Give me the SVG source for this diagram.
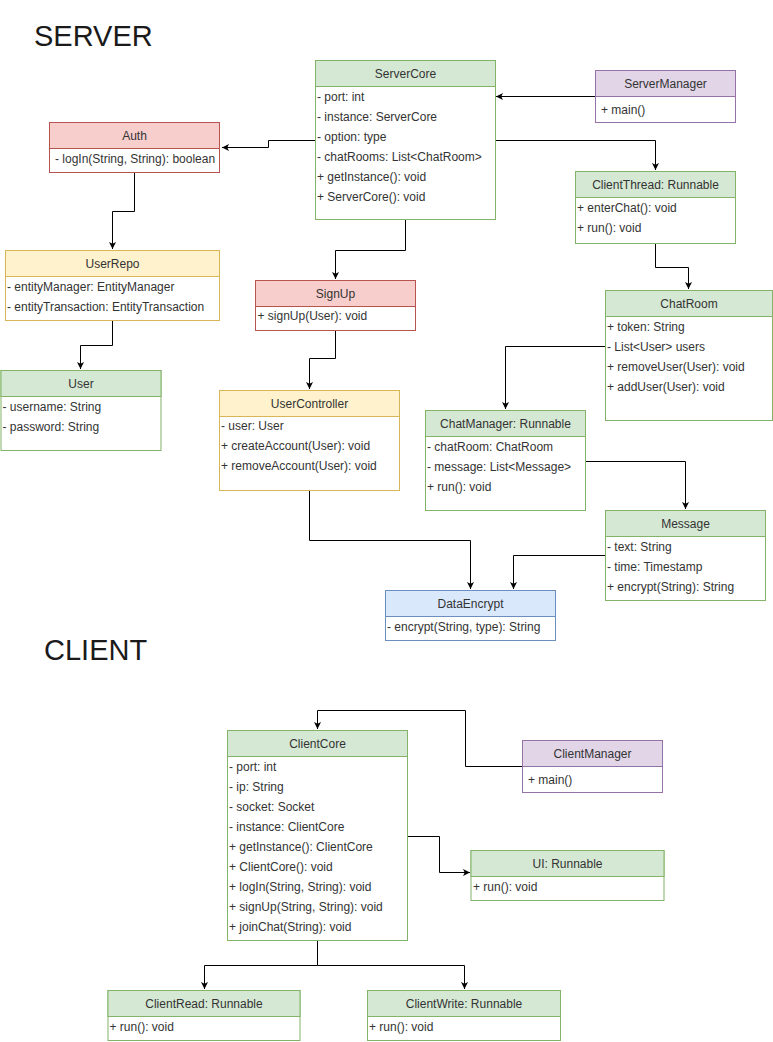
<svg xmlns="http://www.w3.org/2000/svg" width="773" height="1042" viewBox="0 0 773 1042">
<style>
text{font-family:"Liberation Sans",Arial,Helvetica,sans-serif;font-size:12px;fill:#333}
.h{text-anchor:middle}
.t{font-size:29px;fill:#1a1a1a}
.box{fill:#fff}
.g{stroke:#82b366}.g .hd{fill:#d5e8d4}
.r{stroke:#b85450}.r .hd{fill:#f8cecc}
.y{stroke:#d6b656}.y .hd{fill:#fff2cc}
.p{stroke:#9673a6}.p .hd{fill:#e1d5e7}
.b{stroke:#6c8ebf}.b .hd{fill:#dae8fc}
g.n rect,g.n line{stroke:inherit;stroke-width:1}
g.n text{stroke:none}
.c path{fill:none;stroke:#000;stroke-width:1;marker-end:url(#arr)}
</style>
<defs>
<marker id="arr" markerUnits="userSpaceOnUse" markerWidth="8" markerHeight="8" refX="7" refY="3.5" orient="auto">
<path d="M0,0 L7,3.5 L0,7 L1.75,3.5 z" fill="#000"/>
</marker>
</defs>
<rect width="773" height="1042" fill="#fff"/>
<text class="t" x="34" y="46">SERVER</text>
<text class="t" x="44" y="660">CLIENT</text>

<g class="c" id="connectors">
<path d="M595,96.5 H496"/>
<path d="M315,140.5 H268.5 V147.5 H222"/>
<path d="M495,140.5 H655.5 V170"/>
<path d="M405.5,220 V250.5 H335.5 V279"/>
<path d="M134.5,172 V211.5 H112.5 V249"/>
<path d="M112.5,320 V345.5 H80.5 V369"/>
<path d="M335.5,330 V358.5 H309.5 V389"/>
<path d="M309.5,490 V540.5 H470.5 V589"/>
<path d="M655.5,243 V267.5 H688.5 V289"/>
<path d="M605,346.5 H505.5 V409"/>
<path d="M585,461.5 H685.5 V509"/>
<path d="M605,555.5 H513.5 V589"/>
<path d="M522,766.5 H465.5 V710.5 H317.5 V729"/>
<path d="M407,836.5 H439.5 V872.5 H470"/>
<path d="M317.5,941 V965.5 H204.5 V989"/>
<path d="M317.5,965.5 H464.5 V989"/>
</g>

<g id="ServerCore" class="n g">
<rect class="box" x="315.5" y="60.5" width="180" height="159"/>
<rect class="hd" x="315.5" y="60.5" width="180" height="26"/>
<text class="h" x="405.5" y="78">ServerCore</text>
<text x="317" y="101">- port: int</text>
<text x="317" y="121">- instance: ServerCore</text>
<text x="317" y="141">- option: type</text>
<text x="317" y="161">- chatRooms: List&lt;ChatRoom&gt;</text>
<text x="317" y="181">+ getInstance(): void</text>
<text x="317" y="201">+ ServerCore(): void</text>
</g>

<g id="ServerManager" class="n p">
<rect class="box" x="595.5" y="70.5" width="140" height="52"/>
<rect class="hd" x="595.5" y="70.5" width="140" height="26"/>
<text class="h" x="665.5" y="88">ServerManager</text>
<text x="601" y="114">+ main()</text>
</g>

<g id="Auth" class="n r">
<rect class="box" x="49.5" y="122.5" width="170" height="50"/>
<rect class="hd" x="49.5" y="122.5" width="170" height="26"/>
<text class="h" x="134.5" y="140">Auth</text>
<text x="55" y="163">- logIn(String, String): boolean</text>
</g>

<g id="ClientThread" class="n g">
<rect class="box" x="575.5" y="171.5" width="160" height="72"/>
<rect class="hd" x="575.5" y="171.5" width="160" height="26"/>
<text class="h" x="655.5" y="189">ClientThread: Runnable</text>
<text x="577" y="212">+ enterChat(): void</text>
<text x="577" y="232">+ run(): void</text>
</g>

<g id="UserRepo" class="n y">
<rect class="box" x="5.5" y="250.5" width="214" height="70"/>
<rect class="hd" x="5.5" y="250.5" width="214" height="26"/>
<text class="h" x="112.5" y="268">UserRepo</text>
<text x="7" y="291">- entityManager: EntityManager</text>
<text x="7" y="311">- entityTransaction: EntityTransaction</text>
</g>

<g id="User" class="n g">
<rect class="box" x="1" y="370.5" width="160" height="80"/>
<rect class="hd" x="1" y="370.5" width="160" height="26"/>
<text class="h" x="81" y="388">User</text>
<text x="2.5" y="411">- username: String</text>
<text x="2.5" y="431">- password: String</text>
</g>

<g id="SignUp" class="n r">
<rect class="box" x="255.5" y="280.5" width="160" height="50"/>
<rect class="hd" x="255.5" y="280.5" width="160" height="26"/>
<text class="h" x="335.5" y="298">SignUp</text>
<text x="257.5" y="320">+ signUp(User): void</text>
</g>

<g id="UserController" class="n y">
<rect class="box" x="219.5" y="390.5" width="180" height="100"/>
<rect class="hd" x="219.5" y="390.5" width="180" height="26"/>
<text class="h" x="309.5" y="408">UserController</text>
<text x="221" y="430">- user: User</text>
<text x="221" y="450">+ createAccount(User): void</text>
<text x="221" y="470">+ removeAccount(User): void</text>
</g>

<g id="ChatRoom" class="n g">
<rect class="box" x="605.5" y="290.5" width="167" height="130"/>
<rect class="hd" x="605.5" y="290.5" width="167" height="26"/>
<text class="h" x="689" y="308">ChatRoom</text>
<text x="607" y="331">+ token: String</text>
<text x="607" y="351">- List&lt;User&gt; users</text>
<text x="607" y="371">+ removeUser(User): void</text>
<text x="607" y="391">+ addUser(User): void</text>
</g>

<g id="ChatManager" class="n g">
<rect class="box" x="425.5" y="410.5" width="160" height="100"/>
<rect class="hd" x="425.5" y="410.5" width="160" height="26"/>
<text class="h" x="505.5" y="428">ChatManager: Runnable</text>
<text x="427" y="451">- chatRoom: ChatRoom</text>
<text x="427" y="471">- message: List&lt;Message&gt;</text>
<text x="427" y="491">+ run(): void</text>
</g>

<g id="Message" class="n g">
<rect class="box" x="605.5" y="510.5" width="160" height="90"/>
<rect class="hd" x="605.5" y="510.5" width="160" height="26"/>
<text class="h" x="685.5" y="528">Message</text>
<text x="607" y="551">- text: String</text>
<text x="607" y="571">- time: Timestamp</text>
<text x="607" y="591">+ encrypt(String): String</text>
</g>

<g id="DataEncrypt" class="n b">
<rect class="box" x="385.5" y="590.5" width="170" height="50"/>
<rect class="hd" x="385.5" y="590.5" width="170" height="26"/>
<text class="h" x="470.5" y="608">DataEncrypt</text>
<text x="387" y="631">- encrypt(String, type): String</text>
</g>

<g id="ClientCore" class="n g">
<rect class="box" x="227.5" y="730.5" width="180" height="210"/>
<rect class="hd" x="227.5" y="730.5" width="180" height="26"/>
<text class="h" x="317.5" y="748">ClientCore</text>
<text x="229" y="771">- port: int</text>
<text x="229" y="791">- ip: String</text>
<text x="229" y="811">- socket: Socket</text>
<text x="229" y="831">- instance: ClientCore</text>
<text x="229" y="851">+ getInstance(): ClientCore</text>
<text x="229" y="871">+ ClientCore(): void</text>
<text x="229" y="891">+ logIn(String, String): void</text>
<text x="229" y="911">+ signUp(String, String): void</text>
<text x="229" y="931">+ joinChat(String): void</text>
</g>

<g id="ClientManager" class="n p">
<rect class="box" x="522.5" y="740.5" width="140" height="52"/>
<rect class="hd" x="522.5" y="740.5" width="140" height="26"/>
<text class="h" x="592.5" y="758">ClientManager</text>
<text x="528" y="784">+ main()</text>
</g>

<g id="UI" class="n g">
<rect class="box" x="471" y="850.5" width="193" height="50"/>
<rect class="hd" x="471" y="850.5" width="193" height="26"/>
<text class="h" x="567.5" y="868">UI: Runnable</text>
<text x="473" y="891">+ run(): void</text>
</g>

<g id="ClientRead" class="n g">
<rect class="box" x="108" y="990.5" width="192" height="50"/>
<rect class="hd" x="108" y="990.5" width="192" height="26"/>
<text class="h" x="204" y="1008">ClientRead: Runnable</text>
<text x="109.5" y="1031">+ run(): void</text>
</g>

<g id="ClientWrite" class="n g">
<rect class="box" x="367.5" y="990.5" width="193" height="50"/>
<rect class="hd" x="367.5" y="990.5" width="193" height="26"/>
<text class="h" x="464" y="1008">ClientWrite: Runnable</text>
<text x="369" y="1031">+ run(): void</text>
</g>
</svg>
